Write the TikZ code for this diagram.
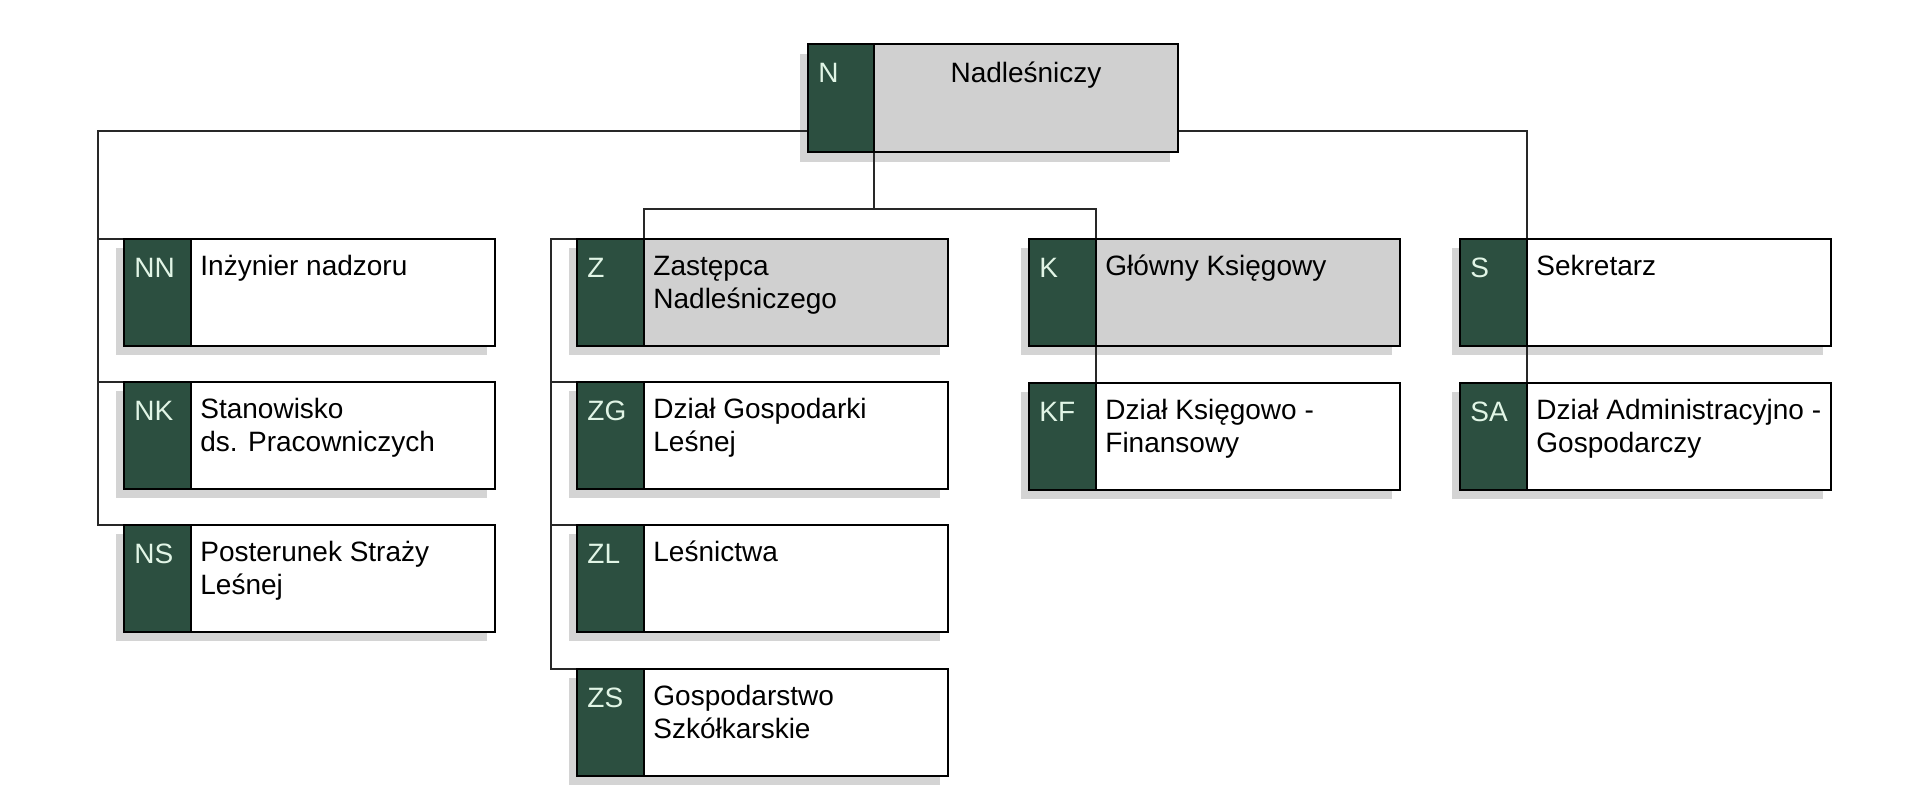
\documentclass[tikz,border=0pt]{standalone}
\usepackage{fontspec}
\setmainfont{Liberation Sans}
\usetikzlibrary{calc}
\pgfdeclarelayer{back}
\pgfdeclarelayer{bg}
\pgfsetlayers{back,bg,main}
\definecolor{darkgreen}{RGB}{44,79,64}
\definecolor{boxgray}{RGB}{208,208,208}
\definecolor{shadowgray}{RGB}{212,212,212}
\definecolor{codewhite}{RGB}{225,245,230}
\definecolor{linec}{RGB}{40,40,40}
\tikzset{
  orgbox/.style={draw=black, line width=1.4pt, rectangle, anchor=north west,
    minimum width=185.5pt, minimum height=53.5pt, inner sep=0pt, outer sep=0pt},
  orgcol/.style={draw=black, line width=1.4pt, fill=darkgreen, rectangle, anchor=north west,
    minimum width=33.5pt, minimum height=53.5pt, inner sep=0pt, outer sep=0pt},
  codetext/.style={anchor=base west, inner sep=0pt, text=codewhite,
    font=\fontsize{14}{16.5}\selectfont},
  maintext/.style={anchor=base west, inner sep=0pt, text=black,
    font=\fontsize{14}{16.5}\selectfont},
  shadowbox/.style={fill=shadowgray},
  conn/.style={draw=linec, line width=1.2pt},
}
% #1 name, #2 x, #3 y, #4 fill, #5 code, #6 text
\newcommand\OrgBox[6]{%
  \begin{pgfonlayer}{back}
  \fill[shadowbox] (#2-8,#3+9) rectangle (#2+363,#3+116);
  \end{pgfonlayer}
  \node[orgbox, fill=#4] (#1) at (#2,#3) {};
  \node[orgcol] (#1c) at (#2,#3) {};
  \node[codetext] (#1l) at ($(#1.north west)+(10,38)$) {#5};
  \node[maintext] (#1t) at ($(#1c.north east)+(9,36)$) {\parbox[t]{170pt}{\raggedright #6}};
}
\begin{document}
\begin{tikzpicture}[x=0.5pt,y=-0.5pt]
\useasboundingbox (0,0) rectangle (1920,810);
\begin{pgfonlayer}{back}
\fill[white] (0,0) rectangle (1920,810);
\fill[shadowbox] (800,54) rectangle (1170,162);
\end{pgfonlayer}
% top box
\node[orgbox, fill=boxgray, minimum width=185pt, minimum height=54pt] (N) at (808,44) {};
\node[orgcol, minimum width=33pt, minimum height=54pt] (Nc) at (808,44) {};
\node[codetext] (Nl) at ($(N.north west)+(10,38)$) {N};
\node[maintext, anchor=base] (Nt) at ($(Nc.north east)!0.5!(N.north east)+(0,38)$) {Nadleśniczy};
% left column
\OrgBox{NN}{124}{239}{white}{NN}{Inżynier nadzoru}
\OrgBox{NK}{124}{382}{white}{NK}{Stanowisko\\ds. Pracowniczych}
\OrgBox{NS}{124}{525}{white}{NS}{Posterunek Straży\\Leśnej}
% Z column
\OrgBox{Z}{577}{239}{boxgray}{Z}{Zastępca\\Nadleśniczego}
\OrgBox{ZG}{577}{382}{white}{ZG}{Dział Gospodarki\\Leśnej}
\OrgBox{ZL}{577}{525}{white}{ZL}{Leśnictwa}
\OrgBox{ZS}{577}{669}{white}{ZS}{Gospodarstwo\\Szkółkarskie}
% K column
\OrgBox{K}{1029}{239}{boxgray}{K}{Główny Księgowy}
\OrgBox{KF}{1029}{383}{white}{KF}{Dział Księgowo -\\Finansowy}
% S column
\OrgBox{S}{1460}{239}{white}{S}{Sekretarz}
\OrgBox{SA}{1460}{383}{white}{SA}{Dział Administracyjno -\\Gospodarczy}
% connectors (behind the boxes, above the shadows)
\begin{pgfonlayer}{bg}
\coordinate (nleft) at ($(N.north west)+(0,87)$);
\coordinate (nright) at ($(N.north east)+(0,87)$);
\coordinate (lbus) at ($(NS.north west)+(-26,0)$);
\draw[conn] (nleft) -| (lbus) -- (NS.north west);
\draw[conn] (NN.north west) -- ++(-26,0);
\draw[conn] (NK.north west) -- ++(-26,0);
\draw[conn] (nright) -| (SAc.north east);
\coordinate (mid) at ($(Nc.south east)+(0,57)$);
\draw[conn] (Nc.south east) -- (mid);
\draw[conn] (Zc.north east) |- (mid) -| (KFc.north east);
\coordinate (zbus) at ($(ZS.north west)+(-26,0)$);
\draw[conn] (Z.north west) -| (zbus) -- (ZS.north west);
\draw[conn] (ZG.north west) -- ++(-26,0);
\draw[conn] (ZL.north west) -- ++(-26,0);
\end{pgfonlayer}
\end{tikzpicture}
\end{document}
